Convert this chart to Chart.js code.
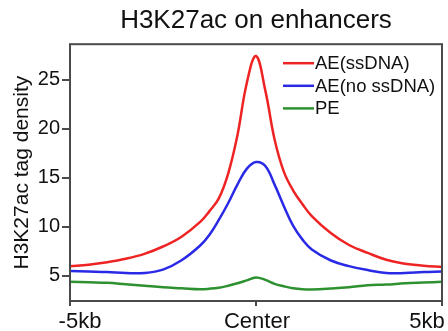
<!DOCTYPE html>
<html>
<head>
<meta charset="utf-8">
<script src="https://cdn.jsdelivr.net/npm/chart.js@4/dist/chart.umd.min.js"></script>
<style>
  html, body { margin: 0; padding: 0; background: #fff; }
  #wrap { width: 448px; height: 331px; }
</style>
</head>
<body>
<div id="wrap"><canvas id="chart"></canvas></div>
<script>
// positions relative to enhancer center (kb)
const positions = [-5, -4.5, -4, -3.5, -3, -2.5, -2, -1.5, -1.25, -1, -0.75, -0.5, -0.25, 0,
                   0.25, 0.5, 0.75, 1, 1.25, 1.5, 2, 2.5, 3, 3.5, 4, 4.5, 5];

const aeSsDNA = [6.0, 6.15, 6.4, 6.75, 7.25, 8.0, 9.0, 10.5, 11.6, 12.9, 15.4, 19.3, 24.6, 27.4,
                 23.9, 18.9, 15.6, 13.7, 12.3, 11.1, 9.4, 8.15, 7.35, 6.65, 6.25, 6.05, 5.92];
const aeNoSsDNA = [5.5, 5.45, 5.4, 5.3, 5.3, 5.65, 6.6, 8.1, 9.2, 10.7, 12.4, 14.3, 15.9, 16.6,
                   16.2, 14.3, 12.1, 10.1, 8.7, 7.7, 6.6, 6.0, 5.6, 5.3, 5.3, 5.4, 5.45];
const pe = [4.4, 4.35, 4.3, 4.15, 4.0, 3.85, 3.75, 3.65, 3.7, 3.8, 4.0, 4.25, 4.55, 4.85,
            4.6, 4.2, 3.95, 3.75, 3.65, 3.63, 3.72, 3.85, 4.05, 4.12, 4.25, 4.33, 4.4];

const seriesNames = ['AE(ssDNA)', 'AE(no ssDNA)', 'PE'];
const seriesColors = ['#ee2424', '#2a2ae6', '#2e9130'];

const xTickValues = [-5, 0, 5];
const xTickLabels = ['-5kb', 'Center', '5kb'];
const yTickValues = [5, 10, 15, 20, 25];

const FONT = '"Liberation Sans", Arial, sans-serif';

function toPoints(values) {
    return positions.map((p, i) => ({ x: p, y: values[i] }));
}

// frame, x labels and legend drawn on top of the chart
const decor = {
    id: 'decor',
    afterDraw(chart) {
        const ctx = chart.ctx;
        const area = chart.chartArea;
        ctx.save();

        // box around the plot
        ctx.strokeStyle = '#4a4a4a';
        ctx.lineWidth = 2;
        ctx.strokeRect(area.left, area.top, area.right - area.left, area.bottom - area.top);

        // x tick labels (edge labels nudged inward like the original)
        const xScale = chart.scales.x;
        const nudges = [10, 1, -15];
        ctx.fillStyle = '#111';
        ctx.font = '22px ' + FONT;
        ctx.textAlign = 'center';
        ctx.textBaseline = 'alphabetic';
        xTickValues.forEach((v, i) => {
            ctx.fillText(xTickLabels[i], xScale.getPixelForValue(v) + nudges[i], area.bottom + 27);
        });

        // legend
        ctx.font = '18.5px ' + FONT;
        ctx.textAlign = 'left';
        ctx.textBaseline = 'middle';
        const lx = area.left + 213;
        chart.data.datasets.forEach((ds, i) => {
            const y = area.top + 19 + i * 22.6;
            ctx.strokeStyle = ds.borderColor;
            ctx.lineWidth = 2.5;
            ctx.beginPath();
            ctx.moveTo(lx, y);
            ctx.lineTo(lx + 31, y);
            ctx.stroke();
            ctx.fillStyle = '#111';
            ctx.fillText(ds.label, lx + 32, y + 1);
        });

        ctx.restore();
    }
};

new Chart(document.getElementById('chart'), {
    type: 'line',
    data: {
        datasets: [
            { label: seriesNames[0], data: toPoints(aeSsDNA), borderColor: seriesColors[0] },
            { label: seriesNames[1], data: toPoints(aeNoSsDNA), borderColor: seriesColors[1] },
            { label: seriesNames[2], data: toPoints(pe), borderColor: seriesColors[2] }
        ]
    },
    options: {
        responsive: true,
        maintainAspectRatio: false,
        animation: false,
        layout: { padding: { left: 0, right: 6, top: 0, bottom: 0 } },
        elements: {
            point: { radius: 0 },
            line: { borderWidth: 2.5, tension: 0.4, fill: false }
        },
        scales: {
            x: {
                type: 'linear',
                min: -5,
                max: 5,
                afterBuildTicks: (scale) => { scale.ticks = xTickValues.map(v => ({ value: v })); },
                afterFit: (scale) => { scale.height = 30; },
                ticks: { display: false },
                grid: { drawOnChartArea: false, drawTicks: true, tickLength: 5, color: '#4a4a4a', lineWidth: 2 },
                border: { display: false }
            },
            y: {
                type: 'linear',
                min: 2.45,
                max: 28.6,
                afterBuildTicks: (scale) => { scale.ticks = yTickValues.map(v => ({ value: v })); },
                afterFit: (scale) => { scale.width = 70; },
                ticks: { color: '#111', padding: 2, font: { family: FONT, size: 20 } },
                grid: { drawOnChartArea: false, drawTicks: true, tickLength: 8, color: '#4a4a4a', lineWidth: 2 },
                border: { display: false },
                title: {
                    display: true,
                    text: 'H3K27ac tag density',
                    color: '#111',
                    padding: { top: 10, bottom: 0 },
                    font: { family: FONT, size: 21 }
                }
            }
        },
        plugins: {
            legend: { display: false },
            tooltip: { enabled: false },
            title: {
                display: true,
                fullSize: false,
                text: 'H3K27ac on enhancers',
                color: '#111',
                padding: { top: 5, bottom: 8 },
                font: { family: FONT, size: 26, weight: 'normal' }
            }
        }
    },
    plugins: [decor]
});
</script>
</body>
</html>
